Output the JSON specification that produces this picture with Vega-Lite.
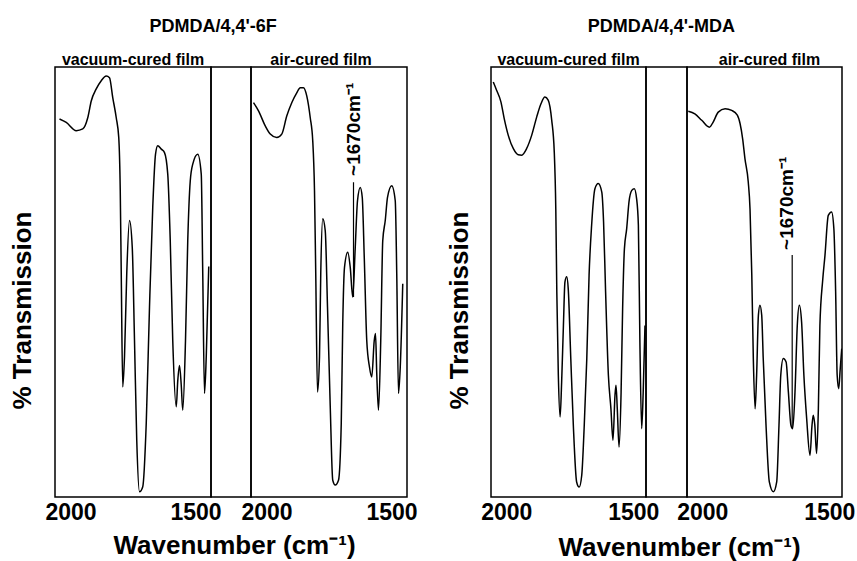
{
  "$schema": "https://vega.github.io/schema/vega-lite/v6.json",
  "background": "white",
  "padding": {"left": 8, "top": 18, "right": 2, "bottom": 2},
  "bounds": "full",
  "spacing": 27,
  "config": {
    "font": "Liberation Sans",
    "view": {"stroke": "black", "strokeWidth": 1.5},
    "axis": {"grid": false, "ticks": false, "domain": false, "labelFont": "Liberation Sans", "labelFontWeight": "bold", "labelColor": "black", "titleFont": "Liberation Sans", "titleFontWeight": "bold", "titleColor": "black"},
    "title": {"font": "Liberation Sans", "fontWeight": "bold", "color": "black"}
  },
  "datasets": {
    "vac6F": [
      {"wavenumber": 2044, "transmission": 87.9}, {"wavenumber": 2017, "transmission": 87.1}, {"wavenumber": 1977, "transmission": 85.2}, {"wavenumber": 1951, "transmission": 85.6}, {"wavenumber": 1931, "transmission": 88.2}, {"wavenumber": 1917, "transmission": 92.1}, {"wavenumber": 1897, "transmission": 94.9}, {"wavenumber": 1877, "transmission": 96.8}, {"wavenumber": 1857, "transmission": 97.9}, {"wavenumber": 1844, "transmission": 97.5}, {"wavenumber": 1831, "transmission": 92.9}, {"wavenumber": 1817, "transmission": 88.2}, {"wavenumber": 1807, "transmission": 83.6}, {"wavenumber": 1801, "transmission": 71.2}, {"wavenumber": 1797, "transmission": 52.0}, {"wavenumber": 1791, "transmission": 25.6}, {"wavenumber": 1784, "transmission": 32.6}, {"wavenumber": 1775, "transmission": 52.0}, {"wavenumber": 1764, "transmission": 64.3}, {"wavenumber": 1753, "transmission": 58.1}, {"wavenumber": 1744, "transmission": 36.4}, {"wavenumber": 1735, "transmission": 13.2}, {"wavenumber": 1724, "transmission": 1.2}, {"wavenumber": 1711, "transmission": 2.4}, {"wavenumber": 1697, "transmission": 17.2}, {"wavenumber": 1684, "transmission": 44.2}, {"wavenumber": 1671, "transmission": 67.4}, {"wavenumber": 1660, "transmission": 79.7}, {"wavenumber": 1651, "transmission": 81.7}, {"wavenumber": 1637, "transmission": 80.9}, {"wavenumber": 1624, "transmission": 80.1}, {"wavenumber": 1611, "transmission": 75.1}, {"wavenumber": 1601, "transmission": 59.6}, {"wavenumber": 1591, "transmission": 36.4}, {"wavenumber": 1577, "transmission": 21.0}, {"wavenumber": 1571, "transmission": 27.0}, {"wavenumber": 1564, "transmission": 30.6}, {"wavenumber": 1557, "transmission": 26.0}, {"wavenumber": 1551, "transmission": 20.2}, {"wavenumber": 1540, "transmission": 36.4}, {"wavenumber": 1531, "transmission": 59.6}, {"wavenumber": 1521, "transmission": 73.5}, {"wavenumber": 1511, "transmission": 77.4}, {"wavenumber": 1491, "transmission": 79.7}, {"wavenumber": 1477, "transmission": 75.1}, {"wavenumber": 1471, "transmission": 52.0}, {"wavenumber": 1464, "transmission": 24.1}, {"wavenumber": 1457, "transmission": 32.6}, {"wavenumber": 1447, "transmission": 53.6}
    ],
    "air6F": [
      {"wavenumber": 2052, "transmission": 91.7}, {"wavenumber": 2032, "transmission": 89.8}, {"wavenumber": 2005, "transmission": 86.3}, {"wavenumber": 1985, "transmission": 84.4}, {"wavenumber": 1959, "transmission": 83.6}, {"wavenumber": 1939, "transmission": 84.4}, {"wavenumber": 1919, "transmission": 88.6}, {"wavenumber": 1899, "transmission": 91.7}, {"wavenumber": 1879, "transmission": 94.0}, {"wavenumber": 1865, "transmission": 95.2}, {"wavenumber": 1852, "transmission": 95.2}, {"wavenumber": 1839, "transmission": 93.3}, {"wavenumber": 1825, "transmission": 88.2}, {"wavenumber": 1815, "transmission": 82.8}, {"wavenumber": 1808, "transmission": 71.2}, {"wavenumber": 1803, "transmission": 51.9}, {"wavenumber": 1796, "transmission": 24.4}, {"wavenumber": 1788, "transmission": 32.6}, {"wavenumber": 1783, "transmission": 51.9}, {"wavenumber": 1775, "transmission": 64.7}, {"wavenumber": 1765, "transmission": 61.9}, {"wavenumber": 1756, "transmission": 44.2}, {"wavenumber": 1745, "transmission": 21.0}, {"wavenumber": 1735, "transmission": 3.9}, {"wavenumber": 1725, "transmission": 2.8}, {"wavenumber": 1712, "transmission": 3.9}, {"wavenumber": 1701, "transmission": 17.1}, {"wavenumber": 1695, "transmission": 40.3}, {"wavenumber": 1688, "transmission": 53.4}, {"wavenumber": 1675, "transmission": 56.9}, {"wavenumber": 1665, "transmission": 53.4}, {"wavenumber": 1655, "transmission": 46.5}, {"wavenumber": 1645, "transmission": 58.1}, {"wavenumber": 1636, "transmission": 68.9}, {"wavenumber": 1625, "transmission": 72.0}, {"wavenumber": 1617, "transmission": 69.7}, {"wavenumber": 1609, "transmission": 55.8}, {"wavenumber": 1599, "transmission": 36.4}, {"wavenumber": 1588, "transmission": 30.2}, {"wavenumber": 1579, "transmission": 27.9}, {"wavenumber": 1569, "transmission": 36.4}, {"wavenumber": 1564, "transmission": 38.0}, {"wavenumber": 1559, "transmission": 28.7}, {"wavenumber": 1552, "transmission": 20.2}, {"wavenumber": 1543, "transmission": 36.4}, {"wavenumber": 1535, "transmission": 59.6}, {"wavenumber": 1525, "transmission": 64.3}, {"wavenumber": 1516, "transmission": 69.7}, {"wavenumber": 1499, "transmission": 72.4}, {"wavenumber": 1485, "transmission": 68.9}, {"wavenumber": 1479, "transmission": 51.9}, {"wavenumber": 1472, "transmission": 24.1}, {"wavenumber": 1465, "transmission": 30.2}, {"wavenumber": 1455, "transmission": 49.6}
    ],
    "vacMDA": [
      {"wavenumber": 2051, "transmission": 96.5}, {"wavenumber": 2038, "transmission": 94.6}, {"wavenumber": 2021, "transmission": 91.9}, {"wavenumber": 2008, "transmission": 88.0}, {"wavenumber": 1992, "transmission": 84.1}, {"wavenumber": 1972, "transmission": 81.0}, {"wavenumber": 1953, "transmission": 79.6}, {"wavenumber": 1939, "transmission": 79.5}, {"wavenumber": 1920, "transmission": 81.0}, {"wavenumber": 1900, "transmission": 84.1}, {"wavenumber": 1880, "transmission": 88.4}, {"wavenumber": 1863, "transmission": 91.5}, {"wavenumber": 1848, "transmission": 93.0}, {"wavenumber": 1835, "transmission": 92.3}, {"wavenumber": 1821, "transmission": 87.6}, {"wavenumber": 1811, "transmission": 80.2}, {"wavenumber": 1805, "transmission": 67.0}, {"wavenumber": 1801, "transmission": 47.7}, {"wavenumber": 1795, "transmission": 28.3}, {"wavenumber": 1788, "transmission": 18.6}, {"wavenumber": 1782, "transmission": 26.7}, {"wavenumber": 1775, "transmission": 39.9}, {"wavenumber": 1769, "transmission": 50.0}, {"wavenumber": 1762, "transmission": 51.2}, {"wavenumber": 1756, "transmission": 48.4}, {"wavenumber": 1746, "transmission": 32.2}, {"wavenumber": 1736, "transmission": 16.7}, {"wavenumber": 1723, "transmission": 3.5}, {"wavenumber": 1713, "transmission": 2.3}, {"wavenumber": 1703, "transmission": 5.0}, {"wavenumber": 1693, "transmission": 16.7}, {"wavenumber": 1683, "transmission": 32.2}, {"wavenumber": 1674, "transmission": 51.6}, {"wavenumber": 1664, "transmission": 63.2}, {"wavenumber": 1651, "transmission": 71.7}, {"wavenumber": 1638, "transmission": 72.9}, {"wavenumber": 1624, "transmission": 70.9}, {"wavenumber": 1617, "transmission": 64.0}, {"wavenumber": 1609, "transmission": 47.7}, {"wavenumber": 1598, "transmission": 28.3}, {"wavenumber": 1588, "transmission": 20.5}, {"wavenumber": 1580, "transmission": 13.2}, {"wavenumber": 1572, "transmission": 23.7}, {"wavenumber": 1568, "transmission": 26.0}, {"wavenumber": 1563, "transmission": 20.5}, {"wavenumber": 1556, "transmission": 11.6}, {"wavenumber": 1548, "transmission": 24.4}, {"wavenumber": 1542, "transmission": 43.8}, {"wavenumber": 1535, "transmission": 57.7}, {"wavenumber": 1526, "transmission": 62.4}, {"wavenumber": 1517, "transmission": 68.6}, {"wavenumber": 1506, "transmission": 71.3}, {"wavenumber": 1496, "transmission": 71.7}, {"wavenumber": 1487, "transmission": 69.4}, {"wavenumber": 1480, "transmission": 63.2}, {"wavenumber": 1474, "transmission": 36.0}, {"wavenumber": 1467, "transmission": 15.9}, {"wavenumber": 1461, "transmission": 24.4}, {"wavenumber": 1454, "transmission": 39.9}
    ],
    "airMDA": [
      {"wavenumber": 2055, "transmission": 89.7}, {"wavenumber": 2029, "transmission": 89.1}, {"wavenumber": 2002, "transmission": 87.6}, {"wavenumber": 1972, "transmission": 86.0}, {"wavenumber": 1957, "transmission": 87.2}, {"wavenumber": 1937, "transmission": 89.5}, {"wavenumber": 1910, "transmission": 90.3}, {"wavenumber": 1884, "transmission": 89.9}, {"wavenumber": 1862, "transmission": 88.8}, {"wavenumber": 1851, "transmission": 86.8}, {"wavenumber": 1841, "transmission": 83.3}, {"wavenumber": 1832, "transmission": 78.7}, {"wavenumber": 1819, "transmission": 73.3}, {"wavenumber": 1812, "transmission": 67.0}, {"wavenumber": 1805, "transmission": 51.6}, {"wavenumber": 1799, "transmission": 32.2}, {"wavenumber": 1792, "transmission": 20.5}, {"wavenumber": 1786, "transmission": 28.3}, {"wavenumber": 1779, "transmission": 42.3}, {"wavenumber": 1773, "transmission": 44.6}, {"wavenumber": 1766, "transmission": 42.3}, {"wavenumber": 1760, "transmission": 32.2}, {"wavenumber": 1749, "transmission": 16.7}, {"wavenumber": 1736, "transmission": 3.5}, {"wavenumber": 1720, "transmission": 1.2}, {"wavenumber": 1707, "transmission": 3.5}, {"wavenumber": 1698, "transmission": 16.7}, {"wavenumber": 1691, "transmission": 28.3}, {"wavenumber": 1681, "transmission": 32.2}, {"wavenumber": 1670, "transmission": 31.4}, {"wavenumber": 1661, "transmission": 24.4}, {"wavenumber": 1651, "transmission": 16.7}, {"wavenumber": 1644, "transmission": 15.9}, {"wavenumber": 1635, "transmission": 24.4}, {"wavenumber": 1626, "transmission": 39.9}, {"wavenumber": 1618, "transmission": 44.6}, {"wavenumber": 1609, "transmission": 40.7}, {"wavenumber": 1600, "transmission": 28.3}, {"wavenumber": 1589, "transmission": 18.2}, {"wavenumber": 1576, "transmission": 9.7}, {"wavenumber": 1568, "transmission": 16.7}, {"wavenumber": 1563, "transmission": 19.0}, {"wavenumber": 1557, "transmission": 16.7}, {"wavenumber": 1550, "transmission": 10.1}, {"wavenumber": 1543, "transmission": 20.5}, {"wavenumber": 1537, "transmission": 39.9}, {"wavenumber": 1526, "transmission": 50.4}, {"wavenumber": 1517, "transmission": 56.2}, {"wavenumber": 1504, "transmission": 65.5}, {"wavenumber": 1491, "transmission": 66.3}, {"wavenumber": 1482, "transmission": 62.4}, {"wavenumber": 1475, "transmission": 47.7}, {"wavenumber": 1469, "transmission": 28.3}, {"wavenumber": 1463, "transmission": 25.2}, {"wavenumber": 1457, "transmission": 29.8}, {"wavenumber": 1451, "transmission": 34.5}
    ],
    "line6F": [{"wavenumber": 1652, "transmission": 73.2, "transmission2": 46.5}],
    "label6F": [{"wavenumber": 1652, "transmission": 85.5, "label": "~1670cm⁻¹"}],
    "lineMDA": [{"wavenumber": 1646, "transmission": 56.3, "transmission2": 16.2}],
    "labelMDA": [{"wavenumber": 1666, "transmission": 68.3, "label": "~1670cm⁻¹"}],
    "gap": [{"wavenumber": 1750, "transmission": 50}]
  },
  "hconcat": [
    {
      "title": {"text": "PDMDA/4,4'-6F", "fontSize": 18, "anchor": "middle", "offset": 15},
      "bounds": "flush",
      "spacing": 0,
      "hconcat": [
        {
          "width": 156, "height": 430,
          "title": {"text": "vacuum-cured film", "fontSize": 16, "offset": -1, "anchor": "middle"},
          "data": {"name": "vac6F"},
          "mark": {"type": "line", "color": "black", "strokeWidth": 1.5, "interpolate": "monotone", "clip": true},
          "encoding": {
            "x": {"field": "wavenumber", "type": "quantitative", "scale": {"domain": [1438, 2062], "reverse": true, "nice": false, "zero": false},
                  "axis": {"values": [2000, 1500], "format": "d", "labelFontSize": 23, "labelPadding": 4, "labelFlush": false, "title": "Wavenumber (cm⁻¹)", "titleFontSize": 26, "titleX": 179, "titleY": 48, "titleAlign": "center", "titleBaseline": "middle"}},
            "y": {"field": "transmission", "type": "quantitative", "scale": {"domain": [0, 100], "nice": false},
                  "axis": {"labels": false, "title": "% Transmission", "titleFontSize": 26, "titleX": -33, "titleY": 243, "titleAngle": 270, "titleAlign": "center", "titleBaseline": "middle"}}
          }
        },
        {
          "width": 40, "height": 430,
          "data": {"name": "gap"},
          "mark": {"type": "point", "opacity": 0},
          "encoding": {
            "x": {"field": "wavenumber", "type": "quantitative", "axis": null},
            "y": {"field": "transmission", "type": "quantitative", "axis": null}
          }
        },
        {
          "width": 156, "height": 430,
          "title": {"text": "air-cured film", "fontSize": 16, "offset": -1, "anchor": "middle", "dx": -8},
          "encoding": {
            "x": {"field": "wavenumber", "type": "quantitative", "scale": {"domain": [1438, 2062], "reverse": true, "nice": false, "zero": false},
                  "axis": {"values": [2000, 1500], "format": "d", "labelFontSize": 23, "labelPadding": 4, "labelFlush": false, "title": null}},
            "y": {"field": "transmission", "type": "quantitative", "scale": {"domain": [0, 100], "nice": false}, "axis": null}
          },
          "layer": [
            {"data": {"name": "air6F"}, "mark": {"type": "line", "color": "black", "strokeWidth": 1.5, "interpolate": "monotone", "clip": true}},
            {"data": {"name": "line6F"}, "mark": {"type": "rule", "color": "black", "strokeWidth": 1.2}, "encoding": {"y2": {"field": "transmission2"}}},
            {"data": {"name": "label6F"}, "mark": {"type": "text", "angle": 270, "align": "center", "baseline": "middle", "fontSize": 19, "fontWeight": "bold", "font": "Liberation Sans", "color": "black"}, "encoding": {"text": {"field": "label"}}}
          ]
        }
      ]
    },
    {
      "title": {"text": "PDMDA/4,4'-MDA", "fontSize": 18, "anchor": "middle", "offset": 15, "dx": 11},
      "bounds": "flush",
      "spacing": 0,
      "hconcat": [
        {
          "width": 155, "height": 430,
          "title": {"text": "vacuum-cured film", "fontSize": 16, "offset": -1, "anchor": "middle"},
          "data": {"name": "vacMDA"},
          "mark": {"type": "line", "color": "black", "strokeWidth": 1.5, "interpolate": "monotone", "clip": true},
          "encoding": {
            "x": {"field": "wavenumber", "type": "quantitative", "scale": {"domain": [1450, 2060], "reverse": true, "nice": false, "zero": false},
                  "axis": {"values": [2000, 1500], "format": "d", "labelFontSize": 23, "labelPadding": 4, "labelFlush": false, "title": "Wavenumber (cm⁻¹)", "titleFontSize": 26, "titleX": 188, "titleY": 50, "titleAlign": "center", "titleBaseline": "middle"}},
            "y": {"field": "transmission", "type": "quantitative", "scale": {"domain": [0, 100], "nice": false},
                  "axis": {"labels": false, "title": "% Transmission", "titleFontSize": 26, "titleX": -32, "titleY": 243, "titleAngle": 270, "titleAlign": "center", "titleBaseline": "middle"}}
          }
        },
        {
          "width": 41, "height": 430,
          "data": {"name": "gap"},
          "mark": {"type": "point", "opacity": 0},
          "encoding": {
            "x": {"field": "wavenumber", "type": "quantitative", "axis": null},
            "y": {"field": "transmission", "type": "quantitative", "axis": null}
          }
        },
        {
          "width": 155, "height": 430,
          "title": {"text": "air-cured film", "fontSize": 16, "offset": -1, "anchor": "middle", "dx": 5},
          "encoding": {
            "x": {"field": "wavenumber", "type": "quantitative", "scale": {"domain": [1450, 2060], "reverse": true, "nice": false, "zero": false},
                  "axis": {"values": [2000, 1500], "format": "d", "labelFontSize": 23, "labelPadding": 4, "labelFlush": false, "title": null}},
            "y": {"field": "transmission", "type": "quantitative", "scale": {"domain": [0, 100], "nice": false}, "axis": null}
          },
          "layer": [
            {"data": {"name": "airMDA"}, "mark": {"type": "line", "color": "black", "strokeWidth": 1.5, "interpolate": "monotone", "clip": true}},
            {"data": {"name": "lineMDA"}, "mark": {"type": "rule", "color": "black", "strokeWidth": 1.2}, "encoding": {"y2": {"field": "transmission2"}}},
            {"data": {"name": "labelMDA"}, "mark": {"type": "text", "angle": 270, "align": "center", "baseline": "middle", "fontSize": 19, "fontWeight": "bold", "font": "Liberation Sans", "color": "black"}, "encoding": {"text": {"field": "label"}}}
          ]
        }
      ]
    }
  ]
}
